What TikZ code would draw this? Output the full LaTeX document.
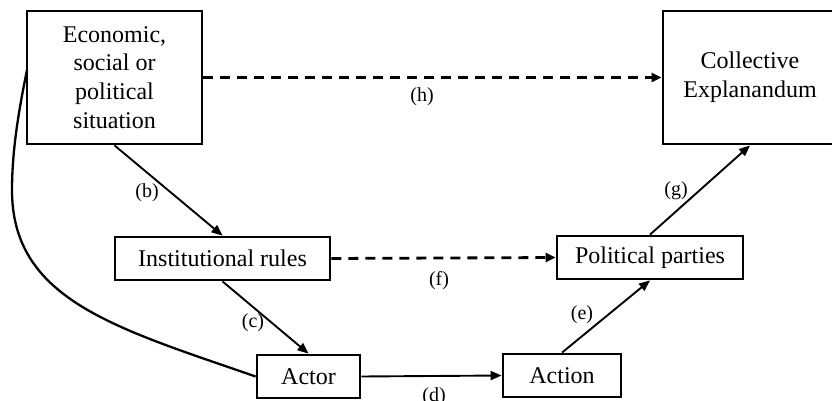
\documentclass[tikz,border=0pt]{standalone}
\usepackage{fontspec}
\setmainfont{Liberation Serif}
\usetikzlibrary{arrows.meta,calc}
\begin{document}
\begin{tikzpicture}[x=1pt,y=-1pt,
  box/.style={draw,line width=2.8pt,align=center,inner sep=0pt,
    font=\fontsize{24}{28.7}\selectfont},
  lbl/.style={inner sep=0pt,font=\fontsize{20}{24}\selectfont},
  arr/.style={line width=1.9pt,-{Triangle[length=11pt,width=9pt]}},
  darr/.style={line width=2.8pt,dash pattern=on 10pt off 7pt,-{Triangle[length=10pt,width=9pt]}},
  curv/.style={line width=2.3pt}]
\useasboundingbox (0,0) rectangle (832,401);
\node[box,minimum width=175pt,minimum height=133pt] (econ) at (114.5,77.5)
  {Economic,\\social or\\political\\situation};
\node[box,minimum width=174pt,minimum height=133pt] (coll) at (750,77.5)
  {Collective\\Explanandum};
\node[box,minimum width=215pt,minimum height=43pt] (inst) at (222.5,258.5) {Institutional rules};
\node[box,minimum width=186pt,minimum height=43pt] (pol) at (650,257.5) {Political parties};
\node[box,minimum width=103pt,minimum height=43pt] (actor) at (308.5,376.5) {Actor};
\node[box,minimum width=118pt,minimum height=43pt] (action) at (562,375.5) {Action};
\coordinate (ein) at (27,70);
\coordinate (cmid) at (12,190);
\draw[arr] (econ.south) -- (inst.north);
\draw[arr] (inst.south) -- (actor.north);
\draw[arr] (actor.east) -- (action.west);
\draw[arr] (action.north) -- (pol.south);
\draw[arr] (pol.north) -- (coll.south);
\draw[darr] (econ.east) -- (coll.west);
\draw[darr] (inst.east) -- (pol.west);
\draw[curv] (actor.west) .. controls (116,328) and (12,300) .. (cmid)
  .. controls (12,150) and (19,109) .. (ein);
\node[lbl] (lb) at (147,193) {(b)};
\node[lbl] (lc) at (253,323) {(c)};
\node[lbl] (ld) at (434,397) {(d)};
\node[lbl] (le) at (582,315) {(e)};
\node[lbl] (lf) at (439,281) {(f)};
\node[lbl] (lg) at (676,191) {(g)};
\node[lbl] (lh) at (422,97) {(h)};
\end{tikzpicture}
\end{document}
